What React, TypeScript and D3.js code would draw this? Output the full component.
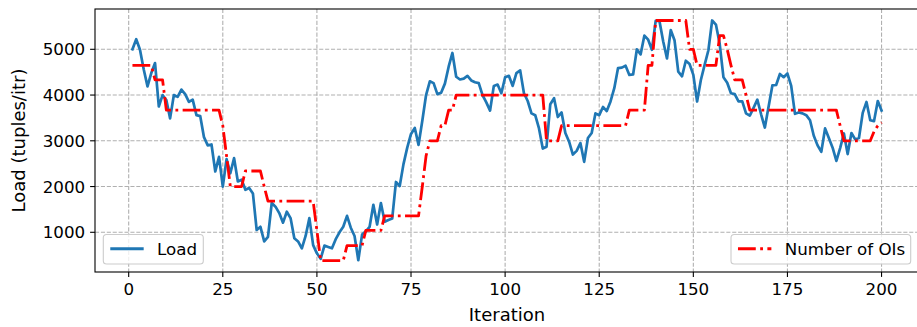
import React, { useEffect, useRef } from "react";
import * as d3 from "d3";

// Load (tuples/itr) per iteration 1..200
const loadValues = [
  5000, 5220, 4990, 4560, 4190, 4480, 4700, 3750, 4000, 3890,
  3490, 4000, 3960, 4120, 4020, 3850, 3900, 3560, 3540, 3080,
  2900, 2920, 2330, 2650, 2000, 2600, 2290, 2620, 2110, 2150,
  1930, 1970, 1850, 1050, 1120, 800, 900, 1640, 1560, 1420,
  1210, 1450, 1310, 870, 800, 650, 920, 1310, 720, 540,
  420, 710, 680, 650, 850, 1000, 1120, 1360, 1100, 920,
  390, 950, 1020, 1120, 1600, 1170, 1640, 1230, 1270, 1300,
  2100, 2010, 2490, 2850, 3150, 3280, 2910, 3440, 4000, 4300,
  4260, 4020, 4050, 4250, 4620, 4920, 4400, 4340, 4360, 4420,
  4320, 4280, 4260, 4000, 3840, 3660, 4200, 4230, 4040, 4390,
  4420, 4200, 4480, 4540, 4040, 3870, 3600, 3560, 3270, 2830,
  2870, 3800, 3930, 3520, 3620, 3170, 2980, 2700, 2780, 2950,
  2540, 3060, 3170, 3600, 3560, 3740, 3650, 3860, 4150, 4590,
  4600, 4640, 4440, 4450, 5000, 4890, 5300, 5210, 4990, 5620,
  5620, 5170, 4800, 5420, 5200, 4510, 4410, 4750, 4680, 4440,
  3860, 4330, 4660, 4980, 5630, 5540, 5120, 4390, 4270, 4040,
  4020, 3860, 3860, 3600, 3550, 3720, 3900, 3580, 3290, 3750,
  4210, 4220, 4460, 4390, 4470, 4200, 3590, 3620, 3600, 3560,
  3450, 3110, 2900, 2760, 3270, 3060, 2850, 2560, 2840, 3160,
  2710, 3170, 3030, 3060, 3610, 3850, 3450, 3430, 3870, 3660,
];

// Number of OIs (scaled to load units) per iteration 1..200
const oiValues = [
  4650, 4650, 4650, 4650, 4650, 4650, 4330, 4330, 4330, 3670,
  3670, 3670, 3670, 3670, 3670, 3670, 3670, 3670, 3670, 3670,
  3670, 3670, 3670, 3670, 3330, 2670, 2000, 2000, 2000, 2000,
  2340, 2340, 2340, 2340, 2340, 2000, 1680, 1680, 1680, 1680,
  1680, 1680, 1680, 1680, 1680, 1680, 1680, 1680, 1680, 1040,
  380, 380, 380, 380, 380, 380, 380, 710, 710, 710,
  710, 710, 1040, 1040, 1040, 1040, 1040, 1360, 1360, 1360,
  1360, 1360, 1360, 1360, 1360, 1360, 1360, 2000, 2670, 3000,
  3000, 3000, 3330, 3330, 3670, 3670, 4000, 4000, 4000, 4000,
  4000, 4000, 4000, 4000, 4000, 4000, 4000, 4000, 4000, 4000,
  4000, 4000, 4000, 4000, 4000, 4000, 4000, 4000, 4000, 4000,
  3000, 3000, 3000, 3000, 3330, 3330, 3330, 3330, 3330, 3330,
  3330, 3330, 3330, 3330, 3330, 3330, 3330, 3330, 3330, 3330,
  3330, 3330, 3670, 3670, 3670, 3670, 3670, 4650, 4650, 5630,
  5630, 5630, 5630, 5630, 5630, 5630, 5630, 5630, 5000, 5000,
  4650, 4650, 4650, 4650, 4650, 4650, 5300, 5300, 5000, 4650,
  4330, 4330, 4330, 4000, 3670, 3670, 3670, 3670, 3670, 3670,
  3670, 3670, 3670, 3670, 3670, 3670, 3670, 3670, 3670, 3670,
  3670, 3670, 3670, 3670, 3670, 3670, 3670, 3670, 3330, 3000,
  3000, 3000, 3000, 3000, 3000, 3000, 3000, 3200, 3330, 3400,
];

const xTicks = [0, 25, 50, 75, 100, 125, 150, 175, 200];
const yTicks = [1000, 2000, 3000, 4000, 5000];

const FONT = "'DejaVu Sans', sans-serif";

export default function App() {
  const ref = useRef<SVGSVGElement>(null);

  useEffect(() => {
    const svg = d3.select(ref.current);
    svg.selectAll("*").remove();

    const left = 95, right = 919, top = 9, bottom = 272;
    const x = d3.scaleLinear().domain([-8.95, 209.95]).range([left, right]);
    const y = d3.scaleLinear().domain([132, 5881]).range([bottom, top]);

    svg.append("defs").append("clipPath").attr("id", "plotclip")
      .append("rect").attr("x", left).attr("y", top)
      .attr("width", right - left).attr("height", bottom - top);

    // grid
    const grid = svg.append("g");
    xTicks.forEach((t) => {
      grid.append("line")
        .attr("x1", x(t)).attr("x2", x(t)).attr("y1", top).attr("y2", bottom)
        .attr("stroke", "#b0b0b0").attr("stroke-width", 1.1)
        .attr("stroke-dasharray", "4.1,1.8");
    });
    yTicks.forEach((t) => {
      grid.append("line")
        .attr("x1", left).attr("x2", right).attr("y1", y(t)).attr("y2", y(t))
        .attr("stroke", "#b0b0b0").attr("stroke-width", 1.1)
        .attr("stroke-dasharray", "4.1,1.8");
    });

    const plot = svg.append("g").attr("clip-path", "url(#plotclip)");
    const line = d3.line<number>()
      .x((_, i) => x(i + 1))
      .y((d) => y(d));

    plot.append("path").datum(loadValues)
      .attr("d", line).attr("fill", "none")
      .attr("stroke", "#1f77b4").attr("stroke-width", 2.7)
      .attr("stroke-linejoin", "round").attr("stroke-linecap", "square");

    plot.append("path").datum(oiValues)
      .attr("d", line).attr("fill", "none")
      .attr("stroke", "#ff0000").attr("stroke-width", 2.8)
      .attr("stroke-linejoin", "round")
      .attr("stroke-dasharray", "17.8,4.4,2.8,4.4");

    // spines
    svg.append("rect").attr("x", left).attr("y", top)
      .attr("width", right - left).attr("height", bottom - top)
      .attr("fill", "none").attr("stroke", "#000").attr("stroke-width", 1.1);

    // x ticks
    const xa = svg.append("g");
    xTicks.forEach((t) => {
      xa.append("line").attr("x1", x(t)).attr("x2", x(t))
        .attr("y1", bottom).attr("y2", bottom + 4.9)
        .attr("stroke", "#000").attr("stroke-width", 1.1);
      xa.append("text").attr("x", x(t)).attr("y", bottom + 22.5)
        .attr("text-anchor", "middle").attr("font-family", FONT)
        .attr("font-size", 16.7).attr("fill", "#000").text(String(t));
    });
    // y ticks
    const ya = svg.append("g");
    yTicks.forEach((t) => {
      ya.append("line").attr("x1", left - 4.9).attr("x2", left)
        .attr("y1", y(t)).attr("y2", y(t))
        .attr("stroke", "#000").attr("stroke-width", 1.1);
      ya.append("text").attr("x", left - 9.8).attr("y", y(t) + 6)
        .attr("text-anchor", "end").attr("font-family", FONT)
        .attr("font-size", 16.7).attr("fill", "#000").text(String(t));
    });

    // axis labels
    svg.append("text").attr("x", (left + right) / 2).attr("y", 321)
      .attr("text-anchor", "middle").attr("font-family", FONT)
      .attr("font-size", 18).attr("fill", "#000").text("Iteration");
    svg.append("text")
      .attr("transform", `translate(25,${(top + bottom) / 2}) rotate(-90)`)
      .attr("text-anchor", "middle").attr("font-family", FONT)
      .attr("font-size", 18).attr("fill", "#000").text("Load (tuples/itr)");

    // legends
    const fs = 16.7;
    const drawLegend = (bx: number, bw: number, label: string, color: string, dash: string | null, cap: string) => {
      const by = 234.5, bh = 29.5;
      const g = svg.append("g");
      g.append("rect").attr("x", bx).attr("y", by).attr("width", bw).attr("height", bh)
        .attr("rx", 3.3).attr("ry", 3.3)
        .attr("fill", "rgba(255,255,255,0.8)").attr("stroke", "#cccccc").attr("stroke-width", 1.1);
      const hx = bx + 0.4 * fs + 0.3;
      const hy = by + bh / 2 - 0.5;
      const h = g.append("line").attr("x1", hx).attr("x2", hx + 2 * fs)
        .attr("y1", hy).attr("y2", hy)
        .attr("stroke", color).attr("stroke-width", 2.8).attr("stroke-linecap", cap);
      if (dash) h.attr("stroke-dasharray", dash);
      g.append("text").attr("x", hx + 2.8 * fs).attr("y", hy + 6)
        .attr("font-family", FONT).attr("font-size", fs).attr("fill", "#000").text(label);
    };
    drawLegend(103.3, 100, "Load", "#1f77b4", null, "butt");
    drawLegend(731, 179.7, "Number of OIs", "#ff0000", "17.8,4.4,2.8,4.4", "butt");
  }, []);

  return (
    <div style={{ position: "absolute", left: 0, top: 0 }}>
      <svg ref={ref} width={917} height={327} style={{ display: "block" }} />
    </div>
  );
}
